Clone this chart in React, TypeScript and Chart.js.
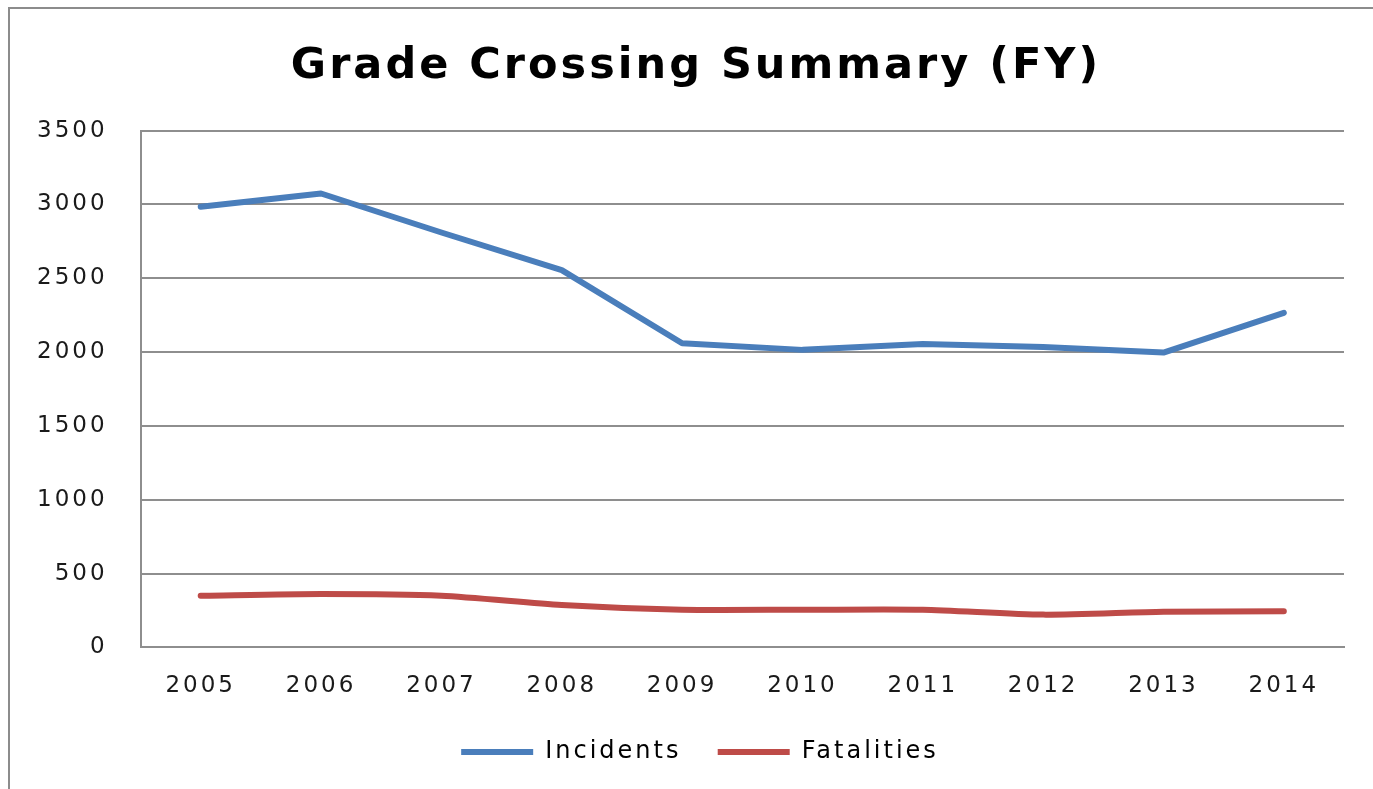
import React, { useEffect, useRef } from "react";
import { Chart, registerables } from "chart.js";

Chart.register(...registerables);

const years = ["2005", "2006", "2007", "2008", "2009", "2010", "2011", "2012", "2013", "2014"];
const incidents = [2985, 3074, 2810, 2555, 2060, 2015, 2055, 2035, 1997, 2266];
const fatalities = [350, 362, 350, 287, 255, 255, 255, 222, 242, 244];
const yTicks = [0, 500, 1000, 1500, 2000, 2500, 3000, 3500];

const FONT = "'DejaVu Sans', Verdana, sans-serif";
const GRID = "#8e8e8e";

const spacingPlugin = {
  id: "letterSpacing",
  beforeLayout(chart: any) {
    chart.ctx.letterSpacing = "3px";
  },
  afterLayout(chart: any) {
    const t = chart.titleBlock;
    if (t) {
      t.left += 22;
      t.right += 22;
    }
    const l = chart.legend;
    if (l) {
      l.left += 26;
      l.right += 26;
    }
  },
  beforeDraw(chart: any) {
    chart.ctx.letterSpacing = "3px";
  },
};

export default function App() {
  const ref = useRef<HTMLCanvasElement | null>(null);

  useEffect(() => {
    if (!ref.current) return;
    const chart = new Chart(ref.current, {
      type: "line",
      data: {
        labels: years,
        datasets: [
          {
            label: "Incidents",
            data: incidents,
            borderColor: "#4A7EBB",
            backgroundColor: "#4A7EBB",
            borderWidth: 6,
            pointRadius: 0,
            tension: 0,
            borderCapStyle: "round",
            borderJoinStyle: "round",
          },
          {
            label: "Fatalities",
            data: fatalities,
            borderColor: "#BE4B48",
            backgroundColor: "#BE4B48",
            borderWidth: 6,
            pointRadius: 0,
            tension: 0.25,
            borderCapStyle: "round",
            borderJoinStyle: "round",
          },
        ],
      },
      options: {
        responsive: false,
        animation: false,
        layout: { padding: { left: -6, right: 29, top: 0, bottom: 15 } },
        plugins: {
          title: {
            display: true,
            text: "Grade Crossing Summary (FY)",
            color: "#000",
            font: { family: FONT, size: 43, weight: "bold" },
            padding: { top: 32, bottom: 38 },
          },
          legend: {
            position: "bottom",
            labels: {
              boxWidth: 72,
              boxHeight: 6,
              padding: 15,
              color: "#111",
              font: { family: FONT, size: 24 },
              generateLabels: (c: any) =>
                c.data.datasets.map((d: any, i: number) => ({
                  text: i === 0 ? d.label + "  " : d.label,
                  fillStyle: d.borderColor,
                  strokeStyle: d.borderColor,
                  lineWidth: 0,
                  hidden: false,
                  datasetIndex: i,
                })),
            },
          },
          tooltip: { enabled: false },
        },
        scales: {
          x: {
            offset: true,
            grid: { display: false, drawTicks: false },
            border: { display: true, color: GRID, width: 2 },
            ticks: { color: "#1a1a1a", font: { family: FONT, size: 23 }, padding: 25, maxRotation: 0 },
          },
          y: {
            min: 0,
            max: 3500,
            afterBuildTicks: (axis: any) => {
              axis.ticks = yTicks.map((v) => ({ value: v }));
            },
            grid: { color: GRID, lineWidth: 2, drawTicks: false },
            border: { display: true, color: GRID, width: 2 },
            ticks: {
              color: "#1a1a1a",
              font: { family: FONT, size: 23 },
              padding: 33,
              callback: (v: any) => String(v),
            },
          },
        },
      },
      plugins: [spacingPlugin],
    });
    return () => chart.destroy();
  }, []);

  return (
    <div
      style={{
        position: "absolute",
        left: 8,
        top: 7,
        width: 1365,
        height: 782,
        boxSizing: "border-box",
        borderLeft: "2px solid #8c8c8c",
        borderTop: "2px solid #8c8c8c",
        background: "#fff",
      }}
    >
      <canvas ref={ref} width={1363} height={780} style={{ display: "block" }} />
    </div>
  );
}
